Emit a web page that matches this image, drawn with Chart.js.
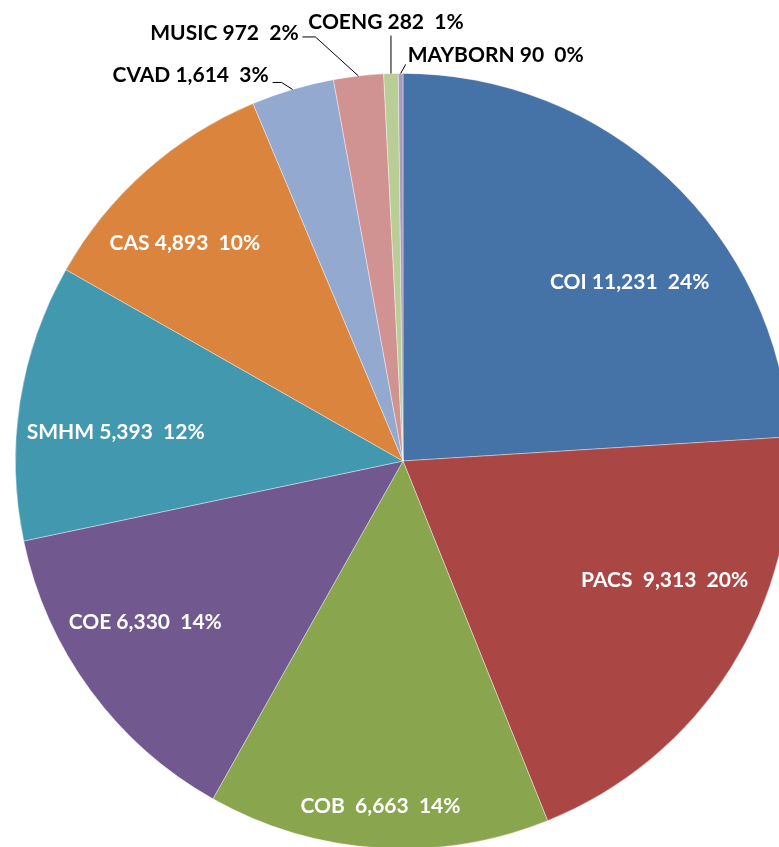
<!DOCTYPE html>
<html>
<head>
<meta charset="utf-8">
<script src="https://cdn.jsdelivr.net/npm/chart.js@4.4.1/dist/chart.umd.min.js"></script>
<style>
  html, body { margin: 0; padding: 0; background: #fff; overflow: hidden; width: 779px; height: 847px; }
  #wrap { position: absolute; left: 0; top: 0; width: 806px; height: 864px; }
</style>
</head>
<body>
<div id="wrap"><canvas id="pieChart"></canvas></div>
<script>
const colleges = ['COI', 'PACS', 'COB', 'COE', 'SMHM', 'CAS', 'CVAD', 'MUSIC', 'COENG', 'MAYBORN'];
const enrolled = [11231, 9313, 6663, 6330, 5393, 4893, 1614, 972, 282, 90];
const sliceColors = ['#4572A7', '#AA4643', '#89A54E', '#71588F', '#4198AF', '#DB843D', '#93A9CF', '#D19392', '#B9CD96', '#A99BBD'];
// name-to-value gap as it appears in the original labels
const nameGap = ['', ' ', ' ', '', '', '', '', '', '', ''];

// where each label sits: inside ones by angle nudge (deg) + radius fraction,
// outside ones by offset from the slice's outer edge plus a leader line
const labelPlace = [
    { inside: true, da: 8.5, r: 0.745 },
    { inside: true, da: -7.7, r: 0.742 },
    { inside: true, da: 0, r: 0.892 },
    { inside: true, da: 4.3, r: 0.784 },
    { inside: true, da: -3.1, r: 0.745 },
    { inside: true, da: -3.4, r: 0.796 },
    { inside: false, tx: -102, ty: -14, leader: [[-11, -7], [-20, -7]] },
    { inside: false, tx: -134, ty: -43, leader: [[-43, -39], [-56, -39]] },
    { inside: false, tx: -5, ty: -51, leader: [[0, -38]] },
    { inside: false, tx: 95, ty: -18, leader: [[5, -9]] }
];

const total = enrolled.reduce((a, b) => a + b, 0);

function labelText(i) {
    const pct = Math.round(enrolled[i] / total * 100);
    return colleges[i] + ' ' + nameGap[i] + enrolled[i].toLocaleString('en-US') + '  ' + pct + '%';
}

const sliceLabels = {
    id: 'sliceLabels',
    afterDatasetsDraw(chart) {
        const ctx = chart.ctx;
        const arcs = chart.getDatasetMeta(0).data;
        ctx.save();
        ctx.font = 'bold 21px Lato, "Open Sans", sans-serif';
        ctx.textAlign = 'center';
        ctx.textBaseline = 'middle';
        arcs.forEach(function (arc, i) {
            const p = labelPlace[i];
            const mid = (arc.startAngle + arc.endAngle) / 2;
            if (p.inside) {
                const a = mid + p.da * Math.PI / 180;
                const r = arc.outerRadius * p.r;
                ctx.fillStyle = '#fff';
                ctx.fillText(labelText(i), arc.x + Math.cos(a) * r, arc.y + Math.sin(a) * r);
            } else {
                const ax = arc.x + Math.cos(mid) * arc.outerRadius;
                const ay = arc.y + Math.sin(mid) * arc.outerRadius;
                ctx.strokeStyle = '#000';
                ctx.lineWidth = 1;
                ctx.beginPath();
                ctx.moveTo(ax, ay);
                p.leader.forEach(function (pt) { ctx.lineTo(ax + pt[0], ay + pt[1]); });
                ctx.stroke();
                ctx.fillStyle = '#000';
                ctx.fillText(labelText(i), ax + p.tx, ay + p.ty);
            }
        });
        ctx.restore();
    }
};

new Chart(document.getElementById('pieChart'), {
    type: 'pie',
    data: {
        labels: colleges,
        datasets: [{
            data: enrolled,
            backgroundColor: sliceColors,
            borderColor: 'rgba(255,255,255,0.5)',
            borderWidth: 0.75
        }]
    },
    options: {
        responsive: true,
        maintainAspectRatio: false,
        animation: false,
        layout: { padding: { top: 73, left: 15, right: 15, bottom: 15 } },
        plugins: {
            legend: { display: false },
            tooltip: { enabled: false }
        }
    },
    plugins: [sliceLabels]
});
</script>
</body>
</html>
